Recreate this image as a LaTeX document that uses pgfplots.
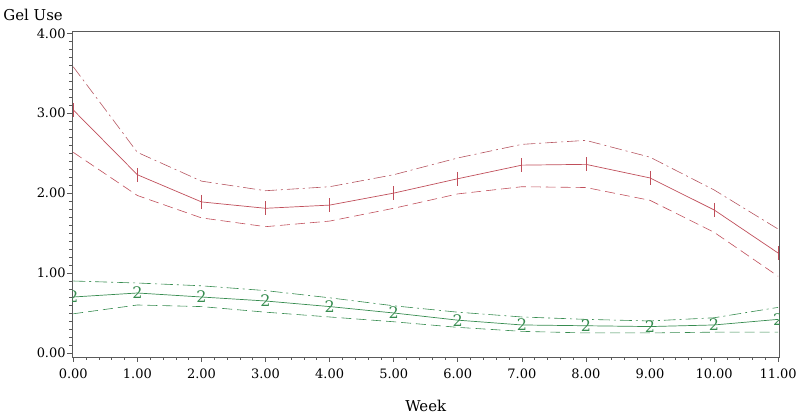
\documentclass[border=0pt]{standalone}
\usepackage{fontspec}
\setmainfont{DejaVu Serif}
\usepackage{pgfplots}
\pgfplotsset{compat=1.18}
\definecolor{rd}{RGB}{192,78,90}
\definecolor{gr}{RGB}{55,140,80}
\definecolor{ax}{RGB}{90,90,90}
\begin{document}
\begin{tikzpicture}
\begin{axis}[name=ax, scale only axis, width=709pt, height=327pt,
 xmin=-0.016, xmax=11.016, ymin=-0.05, ymax=4.03,
 xtick={0,1,...,11}, ytick={0,1,2,3,4},
 minor x tick num=4, minor y tick num=9,
 tick align=outside, xtick pos=left, ytick pos=left,
 major tick length=5pt, minor tick length=3pt,
 axis line style={ax, line width=0.7pt},
 every tick/.style={ax, line width=0.6pt},
 ticklabel style={font=\fontsize{13}{15}\selectfont},
 yticklabel style={inner sep=1.5pt},
 xticklabel style={yshift=-3pt},
 xlabel={Week}, ylabel={Gel Use},
 every axis y label/.style={at={(rel axis cs:0,1)}, anchor=base east, xshift=-6pt, yshift=10pt, font=\fontsize{15}{17}\selectfont},
 every axis x label/.style={at={(rel axis cs:0.5,0)}, anchor=base, yshift=-55pt, font=\fontsize{15}{17}\selectfont},
 clip marker paths=true,
 /pgf/number format/.cd, fixed, fixed zerofill, precision=2, assume math mode=true,
]
% group 1 (red)
\addplot[rd, line width=0.7pt, mark=|, mark size=7pt, mark options={solid, line width=0.8pt}] coordinates {
(0,3.04)(1,2.23)(2,1.89)(3,1.81)(4,1.85)(5,2.00)(6,2.18)(7,2.35)(8,2.36)(9,2.19)(10,1.79)(11,1.25)};
\addplot[rd!85!gray, line width=0.6pt, dash pattern=on 12pt off 4pt on 2pt off 4pt] coordinates {
(0,3.58)(1,2.51)(2,2.15)(3,2.03)(4,2.08)(5,2.23)(6,2.44)(7,2.61)(8,2.66)(9,2.45)(10,2.04)(11,1.55)};
\addplot[rd, line width=0.6pt, dash pattern=on 10pt off 5pt] coordinates {
(0,2.51)(1,1.97)(2,1.69)(3,1.58)(4,1.65)(5,1.81)(6,1.99)(7,2.08)(8,2.07)(9,1.91)(10,1.51)(11,0.96)};
% group 2 (green)
\addplot[gr, line width=0.7pt, mark=text, text mark={\fontsize{16}{16}\selectfont\color{gr}2}] coordinates {
(0,0.70)(1,0.75)(2,0.70)(3,0.65)(4,0.58)(5,0.50)(6,0.41)(7,0.35)(8,0.34)(9,0.33)(10,0.35)(11,0.42)};
\addplot[gr, line width=0.6pt, dash pattern=on 12pt off 4pt on 2pt off 4pt] coordinates {
(0,0.90)(1,0.875)(2,0.84)(3,0.78)(4,0.69)(5,0.59)(6,0.51)(7,0.45)(8,0.42)(9,0.40)(10,0.44)(11,0.57)};
\addplot[gr, line width=0.6pt, dash pattern=on 10pt off 5pt] coordinates {
(0,0.49)(1,0.60)(2,0.58)(3,0.51)(4,0.45)(5,0.39)(6,0.32)(7,0.27)(8,0.25)(9,0.25)(10,0.26)(11,0.26)};
\end{axis}
\path[use as bounding box] ([xshift=-72pt,yshift=-58pt]ax.south west) rectangle ([xshift=19pt,yshift=31pt]ax.north east);
\end{tikzpicture}
\end{document}
